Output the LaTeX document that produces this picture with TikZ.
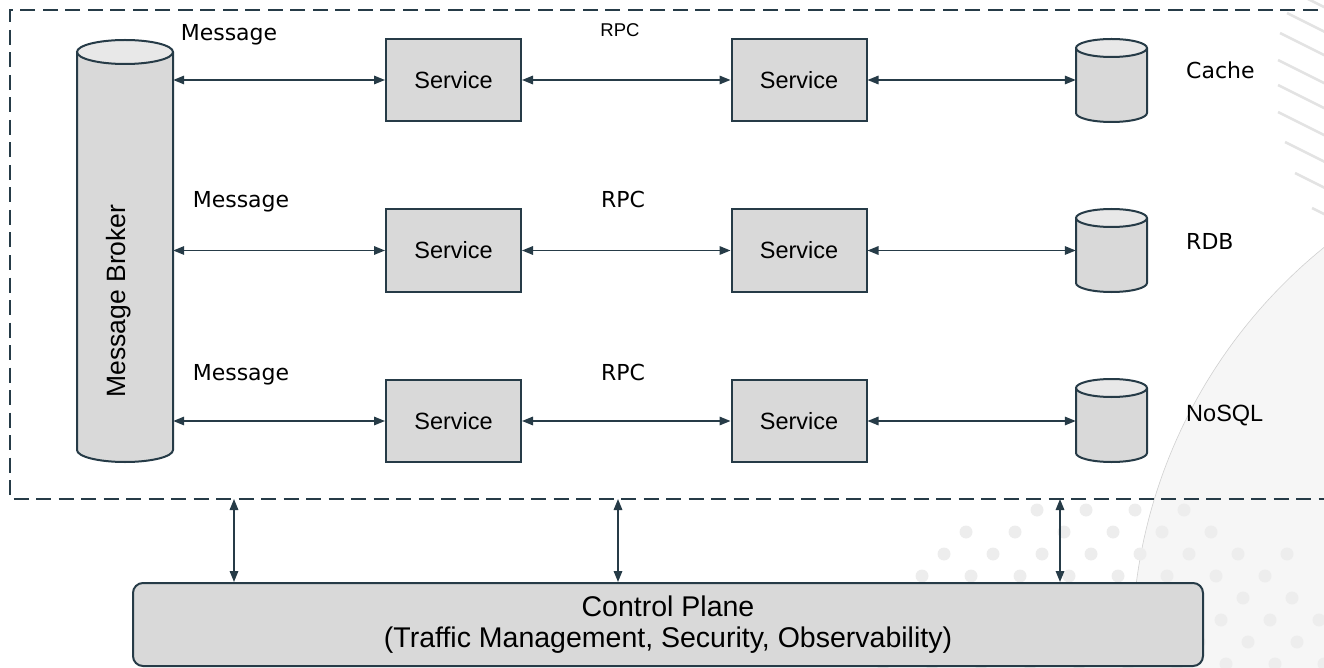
\documentclass[tikz,border=0pt]{standalone}
\usepackage{fontspec}
\setmainfont{Liberation Sans}
\newfontfamily\lblfont{DejaVu Sans}
\usetikzlibrary{arrows.meta}
\definecolor{ink}{HTML}{263B47}
\definecolor{boxfill}{HTML}{D9D9D9}
\definecolor{capfill}{HTML}{E8E8E8}
\definecolor{bgcircle}{HTML}{F6F6F6}
\definecolor{bgedge}{HTML}{D0D0D0}
\definecolor{dotc}{HTML}{EDEDED}
\definecolor{hatch}{HTML}{E3E3E3}
\newcommand\drawcyl[6]{%
  \fill[boxfill] (#2-#5,#3) -- (#2-#5,#4) arc[start angle=180,end angle=0,x radius=#5,y radius=#6] -- (#2+#5,#3) -- cycle;
  \draw[ink, line width=2pt, fill=capfill] (#2,#3) ellipse[x radius=#5, y radius=#6];
  \draw[ink, line width=2pt] (#2-#5,#3) -- (#2-#5,#4) arc[start angle=180,end angle=0,x radius=#5,y radius=#6] -- (#2+#5,#3);
  \node[inner sep=0pt, minimum width={2*#5pt}, minimum height={#4pt-#3pt+2*#6pt}] (#1) at (#2,{(#3+#4)/2}) {};
}
\begin{document}
\begin{tikzpicture}[x=1pt,y=-1pt,
  svc/.style={draw=ink, line width=2pt, fill=boxfill, minimum width=135pt, minimum height=82pt, inner sep=0pt, font=\fontsize{23.5}{28}\selectfont},
  link/.style={draw=ink, line width=1.6pt, {Triangle[length=11pt,width=8.5pt]}-{Triangle[length=11pt,width=8.5pt]}},
  lbl/.style={font=\lblfont\fontsize{22}{26}\selectfont, text=black, inner sep=0pt},
  rpcsmall/.style={font=\fontsize{18.5}{22}\selectfont, text=black, inner sep=0pt},
  dbl/.style={font=\lblfont\fontsize{22}{26}\selectfont, text=black, inner sep=0pt, anchor=base west}
]
\useasboundingbox (0,0) rectangle (1324,668);
% background decoration
\begin{scope}
  \clip (0,0) rectangle (1324,668);
  \fill[bgcircle] (1650,650) circle[radius=518];
  \draw[bgedge, line width=0.6pt] (1650,650) circle[radius=518];
  \foreach \j in {0,...,7} {
    \foreach \i in {-3,...,9} {
      \pgfmathsetmacro\dx{1037+49*\i-22*\j}
      \pgfmathsetmacro\dy{510+22*\j}
      \pgfmathsetmacro\dd{veclen(\dx-1110,\dy-760)}
      \ifdim\dd pt<272pt \fill[dotc] (\dx,\dy) circle[radius=6.5]; \fi
    }
  }
  \foreach \a/\b in {1300/-5,1287/13,1280/33,1278/60,1278/85,1278/112,1285/142,1295/173,1312/208} {
    \draw[hatch, line width=2.5pt] (\a,\b) -- ++(60,30);
  }
\end{scope}
% dashed frame
\draw[ink, line width=2pt, dash pattern=on 15pt off 7.5pt] (1340,10) -- (10,10) -- (10,499) -- (1340,499);
% message broker
\drawcyl{broker}{125}{52}{450}{48}{12}
\node[rotate=90, anchor=base, inner sep=0pt, font=\fontsize{26.5}{30}\selectfont] (brokertxt) at (125,301) {Message Broker};
% databases
\drawcyl{db1}{1111.5}{48}{113}{35.5}{9}
\drawcyl{db2}{1111.5}{218}{283}{35.5}{9}
\drawcyl{db3}{1111.5}{388}{453}{35.5}{9}
% services
\node[svc] (s11) at (453.5,80) {Service};
\node[svc] (s12) at (799,80) {Service};
\node[svc] (s21) at (453.5,250.5) {Service};
\node[svc] (s22) at (799,250.5) {Service};
\node[svc] (s31) at (453.5,421) {Service};
\node[svc] (s32) at (799,421) {Service};
% connectors
\foreach \r/\d in {1/db1,2/db2,3/db3} {
  \draw[link] (broker.east |- s\r1.west) -- (s\r1.west);
  \draw[link] (s\r1.east) -- (s\r2.west);
  \draw[link] (s\r2.east) -- (s\r2.east -| \d.west);
}
% labels
\node[lbl, anchor=base] (m1) at (229,41) {Message};
\node[rpcsmall, anchor=base] (r1) at (620,37) {RPC};
\node[lbl, anchor=base] (m2) at (241,208) {Message};
\node[lbl, anchor=base] (r2) at (623,208) {RPC};
\node[lbl, anchor=base] (m3) at (241,380) {Message};
\node[lbl, anchor=base] (r3) at (623,380) {RPC};
\node[dbl] (l1) at (1186,79) {Cache};
\node[dbl] (l2) at (1186,250) {RDB};
\node[anchor=base west, inner sep=0pt, font=\fontsize{23.5}{28}\selectfont] (l3) at (1186,421) {NoSQL};
% control plane
\node[draw=ink, line width=2pt, fill=boxfill, rounded corners=10pt, minimum width=1070pt, minimum height=83pt, inner sep=0pt, align=center, font=\fontsize{28.5}{31}\selectfont] (cp) at (668,624.5) {Control Plane\\(Traffic Management, Security, Observability)};
\coordinate (v1) at (234,499);
\coordinate (v2) at (618,499);
\coordinate (v3) at (1060,499);
\foreach \v in {v1,v2,v3} {
  \draw[link] (\v) -- (\v |- cp.north);
}
\end{tikzpicture}
\end{document}
